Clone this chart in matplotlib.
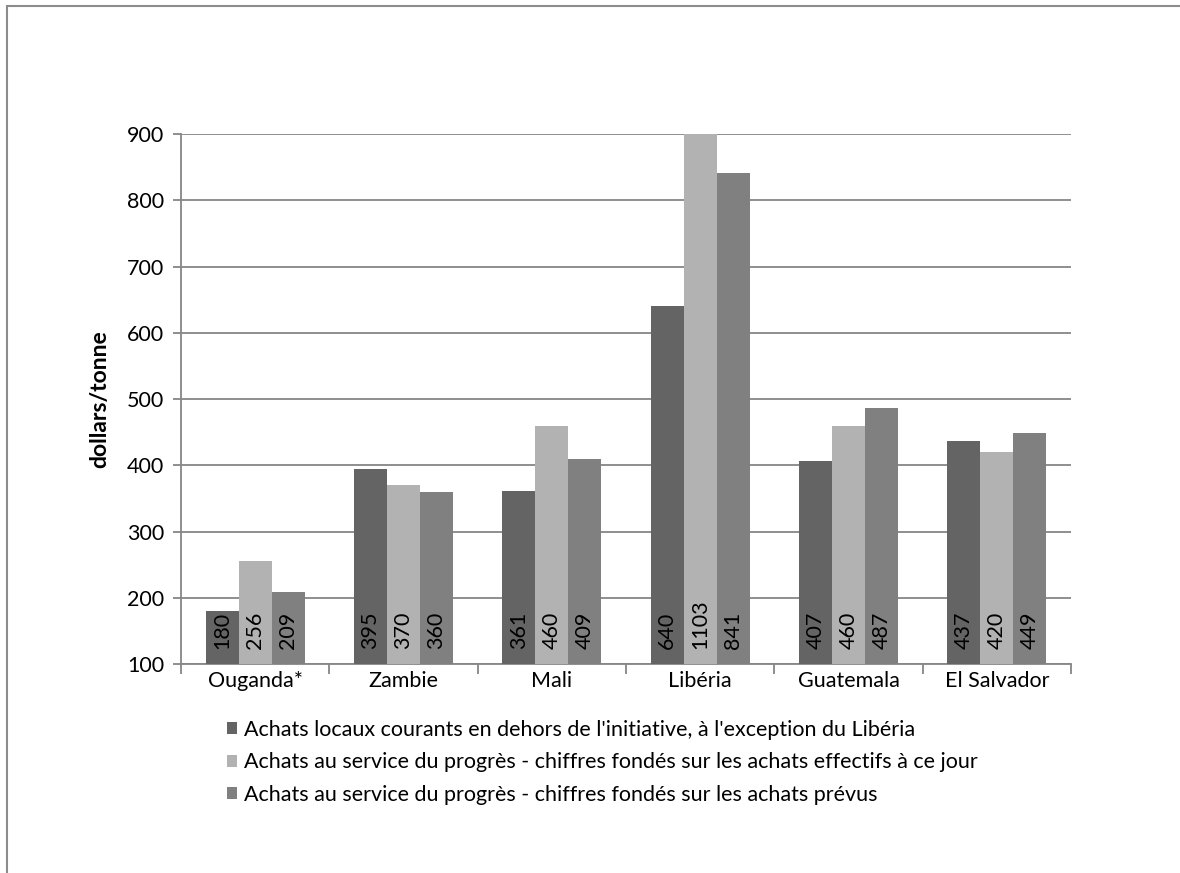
import matplotlib
matplotlib.use("Agg")
import matplotlib.pyplot as plt
from matplotlib.patches import Rectangle
import numpy as np

plt.rcParams['font.family'] = ['Lato', 'DejaVu Sans']

countries = ["Ouganda*", "Zambie", "Mali", "Libéria", "Guatemala", "El Salvador"]
series_names = [
    "Achats locaux courants en dehors de l'initiative, à l'exception du Libéria",
    "Achats au service du progrès - chiffres fondés sur les achats effectifs à ce jour",
    "Achats au service du progrès - chiffres fondés sur les achats prévus",
]
local_purchases = [180, 395, 361, 640, 407, 437]
p4p_actual = [256, 370, 460, 1103, 460, 420]
p4p_planned = [209, 360, 409, 841, 487, 449]
series_values = [local_purchases, p4p_actual, p4p_planned]
colors = ["#646464", "#b2b2b2", "#808080"]
y_ticks = [100, 200, 300, 400, 500, 600, 700, 800, 900]

fig = plt.figure(figsize=(11.8, 8.73), dpi=100)
ax = fig.add_axes([0.1534, 0.2394, 0.7542, 0.6071])

grid_c = "#868686"
fs = 15.5
x = np.arange(len(countries))
bw = 0.222
for i, (vals, col) in enumerate(zip(series_values, colors)):
    pos = x + (i - 1) * bw
    ax.bar(pos, np.array(vals) - 100, bottom=100, width=bw, color=col,
           edgecolor="none", zorder=3, label=series_names[i])
    for p, v in zip(pos, vals):
        ax.annotate(str(v), xy=(p, 100), xytext=(0, 11), textcoords="offset points",
                    rotation=90, ha="center", va="bottom", fontsize=fs,
                    color="black", zorder=4, annotation_clip=False)

ax.set_ylim(100, 900)
ax.set_xlim(-0.5, len(countries) - 0.5)
ax.set_yticks(y_ticks)
ax.set_yticklabels([str(t) for t in y_ticks], fontsize=fs)
ax.yaxis.grid(True, color=grid_c, linewidth=1.3, zorder=0)
ax.set_axisbelow(True)

ax.set_xticks(x)
ax.set_xticklabels(countries, fontsize=fs)
ax.set_xticks(np.arange(-0.5, len(countries)), minor=True)
ax.tick_params(axis="x", which="major", length=0, pad=5)
ax.tick_params(axis="x", which="minor", length=7, width=1.3, color=grid_c)
ax.tick_params(axis="y", length=6, width=1.3, color=grid_c, pad=6)

for s in ["top", "right"]:
    ax.spines[s].set_visible(False)
for s in ["left", "bottom"]:
    ax.spines[s].set_color(grid_c)
    ax.spines[s].set_linewidth(1.3)

ax.set_ylabel("dollars/tonne", fontsize=16.5, fontweight="bold", labelpad=12)

fig.legend(loc="upper left", bbox_to_anchor=(0.183, 0.1876), frameon=False,
           fontsize=fs, handlelength=0.5, handleheight=0.5, handletextpad=0.3,
           labelspacing=0.58, borderpad=0)

# outer chart frame
fig.patches.append(Rectangle((7 / 1180, -0.1), 1.2, 1 - 6 / 873 + 0.1,
                             transform=fig.transFigure, fill=False,
                             edgecolor="#8c8c8c", linewidth=1.5))

fig.savefig("out.png", dpi=100)
